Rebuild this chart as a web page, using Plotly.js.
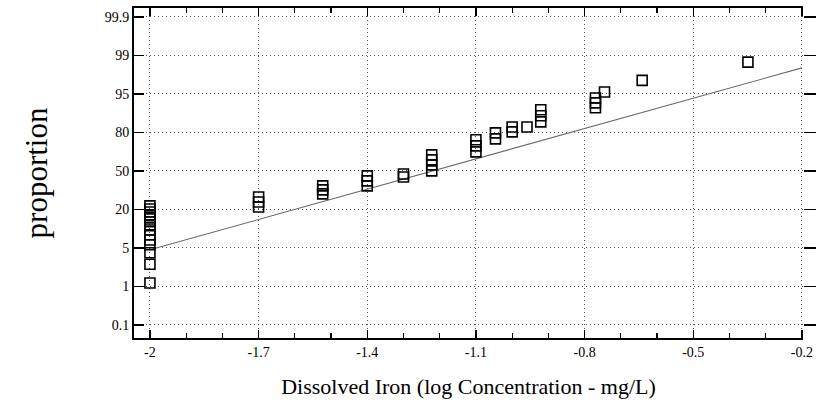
<!DOCTYPE html>
<html>
<head>
<meta charset="utf-8">
<script src="https://cdn.plot.ly/plotly-3.0.1.min.js"></script>
<style>html,body{margin:0;padding:0;background:#fff;}#chart{width:819px;height:417px;}</style>
</head>
<body>
<div id="chart"></div>
<script>
// Probability-axis tick levels (percent), drawn evenly spaced
const probLevels = [0.1, 1, 5, 20, 50, 80, 95, 99, 99.9];
const probLabels = ["0.1", "1", "5", "20", "50", "80", "95", "99", "99.9"];

// Observations: log concentration (x) and cumulative proportion in percent (y)
const logConc = [
  -2, -2, -2, -2, -2, -2, -2, -2, -2, -2, -2, -2, -2, -2,
  -1.7, -1.7, -1.7,
  -1.523, -1.523, -1.523,
  -1.4, -1.4, -1.4,
  -1.3, -1.3,
  -1.222, -1.222, -1.222, -1.222,
  -1.1, -1.1, -1.1,
  -1.046, -1.046,
  -1.0, -1.0,
  -0.959,
  -0.921, -0.921, -0.921,
  -0.77, -0.77, -0.77,
  -0.745,
  -0.641,
  -0.349
];
const proportion = [
  1.36, 3.3, 4.5, 6.2, 8.1, 10.1, 12.0, 13.6, 15.2, 16.7, 17.9, 19.0, 20.3, 22.7,
  21.9, 25.8, 29.7,
  32.1, 35.2, 38.3,
  38.3, 42.2, 46.1,
  45.2, 47.6,
  50.0, 54.7, 58.6, 62.5,
  64.8, 69.5, 74.2,
  74.9, 79.6,
  80.2, 82.1,
  82.1,
  84.1, 86.5, 88.8,
  89.6, 91.5, 93.4,
  95.2,
  96.4,
  98.3
];

// Fitted reference line endpoints
const fitX = [-2, -0.2];
const fitP = [4.8, 97.7];

// map a percent to the evenly spaced probability axis position
function probPos(p) {
  for (let i = 0; i < probLevels.length - 1; i++) {
    const a = probLevels[i], b = probLevels[i + 1];
    if (p <= b || i === probLevels.length - 2) {
      return i + (p - a) / (b - a);
    }
  }
}

const tickPos = probLevels.map((_, i) => i);
const serif = "Liberation Serif";

const traces = [
  {
    x: fitX, y: fitP.map(probPos), type: "scatter", mode: "lines",
    line: {color: "#6a6a6a", width: 1.1}, hoverinfo: "skip", showlegend: false
  },
  {
    x: logConc, y: proportion.map(probPos), type: "scatter", mode: "markers",
    marker: {symbol: "square-open", size: 10, color: "#000", line: {width: 1.6, color: "#000"}},
    showlegend: false
  },
  {
    x: [fitX[0]], y: [probPos(50)], yaxis: "y2", type: "scatter", mode: "markers",
    marker: {opacity: 0}, hoverinfo: "skip", showlegend: false
  }
];

const layout = {
  width: 819, height: 417,
  margin: {l: 134, r: 16, t: 8, b: 79},
  paper_bgcolor: "#fff", plot_bgcolor: "#fff",
  font: {family: serif, color: "#000", size: 14},
  xaxis: {
    range: [-2.044, -0.197],
    tickvals: [-2, -1.7, -1.4, -1.1, -0.8, -0.5, -0.2],
    ticktext: ["-2", "-1.7", "-1.4", "-1.1", "-0.8", "-0.5", "-0.2"],
    ticks: "inside", ticklen: 8, tickwidth: 1.5, tickcolor: "#000",
    minor: {dtick: 0.1, tick0: -2, ticks: "inside", ticklen: 5, tickwidth: 1.2, tickcolor: "#000", showgrid: false},
    showline: true, linecolor: "#000", linewidth: 2, mirror: "ticks",
    showgrid: true, gridcolor: "#555", griddash: "1px,3px", gridwidth: 1,
    zeroline: false,
    tickfont: {family: serif, size: 14, color: "#000"},
    title: {text: "Dissolved Iron (log Concentration - mg/L)", font: {family: serif, size: 22, color: "#000"}, standoff: 20}
  },
  yaxis: {
    range: [-0.34, 8.23],
    tickvals: tickPos, ticktext: probLabels,
    ticks: "inside", ticklen: 10, tickwidth: 1.5, tickcolor: "#000",
    showline: true, linecolor: "#000", linewidth: 2,
    showgrid: true, gridcolor: "#555", griddash: "1px,3px", gridwidth: 1,
    zeroline: false,
    tickfont: {family: serif, size: 14, color: "#000"},
    title: {text: "proportion", font: {family: serif, size: 31, color: "#000"}, standoff: 48}
  },
  yaxis2: {
    overlaying: "y", side: "right", range: [-0.34, 8.23],
    tickvals: tickPos, showticklabels: false,
    ticks: "outside", ticklen: 12, tickwidth: 1.5, tickcolor: "#000",
    showline: false, showgrid: false, zeroline: false
  }
};

Plotly.newPlot("chart", traces, layout, {displayModeBar: false, staticPlot: true});
</script>
</body>
</html>
